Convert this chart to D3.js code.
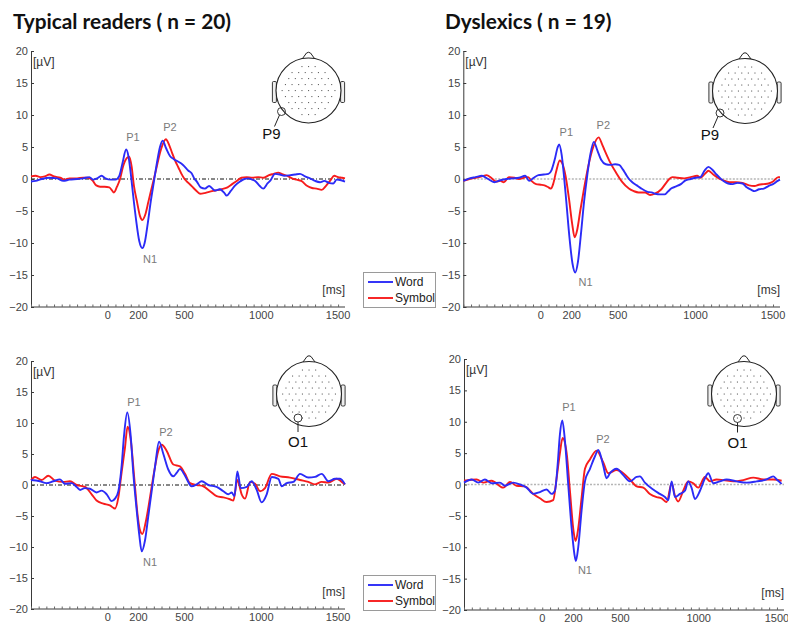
<!DOCTYPE html>
<html>
<head>
<meta charset="utf-8">
<script src="https://cdn.jsdelivr.net/npm/d3@7"></script>
<style>
  html, body { margin: 0; padding: 0; background: #fff; }
  svg { display: block; font-family: Arial, "Liberation Sans", sans-serif; }
</style>
</head>
<body>
<svg id="chart" width="788" height="624"></svg>
<script>
// Grand-average ERPs, each point is [time (ms), amplitude (µV)]
const typicalP9Word = [[-500,-0.4],[-470,-0.3],[-430,0],[-380,0.2],[-330,0.1],[-290,-0.3],[-250,-0.1],[-200,0],[-160,0.1],[-120,0.3],[-95,-0.1],[-70,0.1],[-40,0.5],[-15,0.1],[20,-0.1],[50,-0.1],[75,0.5],[95,2.4],[120,4.6],[135,3.5],[150,0.8],[165,-2.5],[185,-6.5],[205,-9.7],[225,-10.8],[240,-10],[260,-7],[280,-3.5],[300,-0.5],[320,2.5],[340,5],[357,6],[380,4.8],[405,3.6],[430,3.1],[460,2.7],[490,2.2],[525,1.3],[546,0.9],[565,0],[580,-0.4],[605,-1.3],[633,-1.5],[660,-1.1],[700,-1.8],[730,-1.6],[760,-2.2],[774,-2.6],[800,-1.9],[830,-1],[861,-0.4],[890,0],[916,0.1],[940,-0.1],[960,-0.3],[990,-1.1],[1013,-1.5],[1040,-0.7],[1060,-0.2],[1089,0.8],[1120,0.7],[1150,0.5],[1190,0.6],[1220,0.7],[1252,0.8],[1285,0.4],[1317,0.1],[1350,-0.3],[1382,-0.5],[1410,-0.3],[1440,-0.6],[1469,-0.7],[1491,-0.1],[1520,-0.2],[1545,-0.4]];
const typicalP9Symbol = [[-500,0.4],[-470,0.5],[-440,0.3],[-410,0.4],[-380,0.7],[-350,0.4],[-310,0.2],[-280,-0.1],[-250,0.1],[-200,0.1],[-160,0.2],[-130,0.2],[-100,-0.2],[-75,-1],[-50,-1.2],[-20,-1.2],[10,-1.3],[40,-2.1],[60,-1.2],[80,0],[100,2],[125,3.3],[140,3.5],[155,2],[170,-1],[190,-3.5],[210,-5.8],[225,-6.4],[245,-5.5],[265,-3.5],[290,-1],[315,1.5],[345,4.5],[378,6.2],[400,5.3],[420,4],[440,2.8],[460,1.8],[480,0.8],[500,0],[525,-0.6],[550,-1.2],[575,-1.8],[601,-2.3],[630,-2.2],[660,-2.0],[700,-1.8],[740,-1.6],[780,-1.3],[810,-0.8],[840,-0.3],[870,0.2],[905,0.3],[940,0.2],[980,0.3],[1013,0.2],[1050,0.6],[1080,0.8],[1110,1.0],[1140,0.7],[1170,0.5],[1200,0.1],[1230,-0.1],[1260,-0.3],[1300,-1.1],[1330,-1.4],[1360,-1.5],[1393,-1.7],[1420,-1.1],[1450,-0.2],[1475,0.5],[1500,0.3],[1525,0.2],[1545,0.1]];

const dyslexicP9Word = [[-500,-0.3],[-460,0.1],[-420,0.3],[-380,0.5],[-340,0],[-300,-0.5],[-260,-0.2],[-220,0],[-180,0.1],[-140,0.2],[-100,0.5],[-75,-0.3],[-45,0.2],[-15,0.6],[20,0.7],[50,0.8],[70,1.4],[90,3],[110,5],[119,5.4],[135,3.8],[150,0.5],[165,-3.5],[185,-9],[205,-13.2],[223,-14.6],[240,-13],[260,-8.5],[280,-3.5],[300,0.5],[320,3.8],[343,5.8],[365,4.5],[390,3],[420,2.3],[450,2.2],[480,2.3],[506,2.2],[530,1.5],[548,0.8],[570,0],[591,-0.5],[620,-1],[650,-1.5],[690,-2],[716,-2.1],[740,-2.3],[770,-2.4],[800,-2.4],[820,-2],[842,-1.5],[870,-1.2],[905,-0.8],[935,-0.2],[968,0],[1000,0.2],[1031,0.3],[1060,1.4],[1083,1.9],[1110,1.4],[1135,0.7],[1160,0.1],[1180,-0.3],[1210,-0.7],[1240,-0.8],[1270,-0.6],[1303,-0.7],[1330,-1.3],[1360,-1.7],[1380,-1.9],[1410,-1.6],[1440,-1.5],[1470,-1.1],[1500,-0.8],[1530,-0.3],[1545,-0.1]];
const dyslexicP9Symbol = [[-500,-0.3],[-460,0],[-420,0.2],[-380,0.4],[-350,0.6],[-320,0.2],[-290,-0.4],[-260,-0.3],[-238,-0.5],[-206,0.3],[-170,0.2],[-140,0],[-122,0.1],[-95,0.3],[-81,0.3],[-60,-0.3],[-30,-0.8],[0,-0.9],[24,-1],[50,-1.3],[66,-1.5],[80,-0.8],[98,1],[123,2.9],[140,2.4],[160,0.5],[182,-3],[203,-7],[219,-9.1],[235,-8],[255,-5],[276,-2],[307,2],[339,5],[374,6.5],[395,5.5],[412,4.5],[444,2.8],[486,1],[527,-0.5],[569,-1.5],[601,-1.9],[632,-2.1],[674,-2.1],[706,-2.5],[737,-2.3],[779,-1.6],[810,-0.6],[830,0],[850,0.3],[884,0.2],[926,0.1],[968,0.3],[1010,0.5],[1031,0.2],[1060,0.8],[1083,1.3],[1114,0.7],[1156,0],[1190,-0.3],[1219,-0.5],[1260,-0.5],[1303,-0.6],[1345,-1.0],[1380,-1.1],[1408,-0.9],[1440,-0.8],[1471,-0.7],[1500,-0.4],[1534,0.3],[1545,0.3]];

const typicalO1Word = [[-500,0.8],[-442,0.6],[-400,0.3],[-355,0.6],[-311,0.9],[-279,0.2],[-235,0.3],[-203,-0.3],[-180,-0.8],[-150,-0.5],[-116,-0.6],[-73,-1.2],[-40,-0.9],[-7,-1.5],[25,-2.6],[47,-2.2],[69,-1],[90,3],[106,8],[127,11.7],[149,8],[166,2],[188,-4],[205,-8],[221,-10.7],[242,-9],[264,-5],[286,-1],[308,3],[334,7],[362,5],[394,2.5],[427,1.4],[450,2],[470,2.6],[503,1.5],[546,-0.2],[579,0.1],[612,0.6],[655,0],[709,-0.3],[753,-1],[785,-1.5],[807,-1.2],[825,-1.8],[844,2.2],[866,-0.5],[905,-0.3],[937,0.6],[970,-0.8],[1002,-2.8],[1035,-1.5],[1068,1.3],[1111,1],[1133,-0.2],[1165,0.3],[1209,0.5],[1252,1.8],[1306,1.2],[1350,1.3],[1393,1.8],[1437,0.6],[1480,1],[1513,1],[1545,0.1]];
const typicalO1Symbol = [[-500,0.8],[-474,1.3],[-431,0.8],[-387,1.5],[-344,0.7],[-290,0.5],[-246,0.6],[-203,0],[-148,-0.3],[-105,-1.5],[-73,-2.5],[-29,-3],[14,-3.3],[47,-3.8],[69,-2],[90,2],[112,6],[129,9.4],[151,7],[173,1],[195,-5],[210,-7.3],[225,-7.9],[247,-6],[275,-2],[301,2],[329,5.5],[351,6.5],[384,5.5],[427,3.3],[470,3.0],[503,1.8],[536,0.3],[579,0],[622,-0.2],[666,-1],[709,-1.8],[753,-2.0],[796,-2.3],[818,-2.5],[844,0.8],[872,-1.5],[894,-2.2],[927,0.5],[959,0.2],[992,-1.0],[1024,-0.5],[1068,1.8],[1122,1.4],[1187,1.2],[1252,0.8],[1306,0.5],[1350,0.1],[1393,0.5],[1437,0.4],[1491,1],[1524,0.5],[1545,0.1]];

const dyslexicO1Word = [[-500,0.3],[-451,0.8],[-409,0.3],[-366,0.8],[-324,0.2],[-270,0.3],[-238,-0.2],[-185,0.3],[-142,0],[-100,-0.5],[-57,-1.5],[-15,-1.2],[28,-0.8],[60,-1.5],[81,-1.0],[98,3],[113,8],[128,10.2],[145,7],[166,0],[188,-7],[205,-11],[215,-12.2],[230,-10],[252,-4],[273,0.5],[305,2.5],[337,4.5],[358,5.5],[390,3],[411,1],[433,1.8],[475,2.5],[518,1.5],[560,0.5],[603,1.2],[624,1.3],[656,0.3],[709,-0.8],[752,-1.5],[784,-2.0],[805,-2.5],[827,0.5],[848,-2],[880,-1.5],[912,-1],[933,0.5],[954,-0.5],[976,-2.3],[1008,-1],[1040,1],[1061,1.8],[1093,0.2],[1135,0.5],[1178,0.8],[1242,0.5],[1306,0.3],[1370,0.5],[1434,0.8],[1476,1.3],[1498,0.8],[1530,0.1]];
const dyslexicO1Symbol = [[-500,0.6],[-419,0.8],[-377,0.3],[-324,0.6],[-249,-0.5],[-206,0.4],[-164,-0.2],[-111,-0.3],[-57,-1.5],[-15,-2.2],[28,-2.8],[70,-2.5],[92,1],[113,5],[130,7.4],[156,5],[177,-1],[198,-7],[213,-9],[230,-7],[252,-2],[273,2.5],[305,4],[347,5.4],[390,3.5],[422,1.8],[475,2.3],[518,1.8],[560,0.8],[603,-0.3],[646,-0.5],[688,-1.5],[731,-2.0],[763,-2.2],[795,-2.8],[827,0.2],[848,-1.8],[869,-2.7],[901,-1],[933,0.5],[965,0.2],[997,-0.5],[1040,1.2],[1072,0.5],[1114,0.8],[1157,0.7],[1221,0.5],[1285,0.7],[1349,1.1],[1413,0.8],[1476,0.8],[1530,0.6]];

// Component annotations: [label, time (ms), amplitude (µV)]
const typicalP9Peaks   = [["P1",164,6.4],["P2",405,8.0],["N1",275,-12.7]];
const dyslexicP9Peaks  = [["P1",165,7.2],["P2",404,8.3],["N1",290,-16.2]];
const typicalO1Peaks   = [["P1",171,13.2],["P2",379,8.4],["N1",275,-12.6]];
const dyslexicO1Peaks  = [["P1",171,12.1],["P2",388,7.1],["N1",273,-13.8]];

const conditions = ["Word", "Symbol"];
const groupTitles = ["Typical readers ( n = 20)", "Dyslexics ( n = 19)"];
const yTickValues = [-20, -15, -10, -5, 0, 5, 10, 15, 20];
const xTickLabels = [0, 200, 500, 1000, 1500];
const xMinorTicks = d3.range(-500, 1501, 50);
const timeDomain = [-500, 1545];
const ampDomain = [-20, 20];

const colors = { Word: "#2b2bf7", Symbol: "#f71c1c" };

const svg = d3.select("#chart");

// Panel frames (pixel layout) and their content
const panels = [
  { x: [31, 345],     y: [307, 51],  word: typicalP9Word,   symbol: typicalP9Symbol,   peaks: typicalP9Peaks,
    site: "P9", head: [308.5, 90.5], mark: [-27, 21], zero: "dashdot", legend: [363, 272] },
  { x: [463.3, 780],  y: [307, 51],  word: dyslexicP9Word,  symbol: dyslexicP9Symbol,  peaks: dyslexicP9Peaks,
    site: "P9", head: [745, 91],     mark: [-25, 22], zero: "dotted" },
  { x: [31, 345],     y: [609, 361], word: typicalO1Word,   symbol: typicalO1Symbol,   peaks: typicalO1Peaks,
    site: "O1", head: [309, 394],    mark: [-11, 24], zero: "dashdot", legend: [363, 575] },
  { x: [464, 784],    y: [610, 359], word: dyslexicO1Word,  symbol: dyslexicO1Symbol,  peaks: dyslexicO1Peaks,
    site: "O1", head: [744, 394],    mark: [-6.5, 24.5], zero: "dotted" }
];

// Group titles
svg.append("text").attr("x", 13).attr("y", 29).text(groupTitles[0])
  .attr("font-family", "Lato, 'Open Sans', sans-serif").attr("font-weight", 700)
  .attr("font-size", 20.8).attr("fill", "#111");
svg.append("text").attr("x", 445).attr("y", 29).text(groupTitles[1])
  .attr("font-family", "Lato, 'Open Sans', sans-serif").attr("font-weight", 700)
  .attr("font-size", 20.8).attr("fill", "#111");

const axisColor = "#3a3a3a";
const tickText = "#444";

panels.forEach(p => {
  const x = d3.scaleLinear().domain(timeDomain).range(p.x);
  const y = d3.scaleLinear().domain(ampDomain).range(p.y);
  const g = svg.append("g");

  // zero reference line
  const zero = g.append("line")
    .attr("x1", x(timeDomain[0])).attr("x2", x(timeDomain[1]))
    .attr("y1", y(0)).attr("y2", y(0));
  if (p.zero === "dashdot") {
    zero.attr("stroke", "#111").attr("stroke-width", 1).attr("stroke-dasharray", "4,2,1,2");
  } else {
    zero.attr("stroke", "#b5b5b5").attr("stroke-width", 1.6).attr("stroke-dasharray", "2,1.5");
  }

  // y axis: inward ticks with labels on the left
  const yAxis = d3.axisLeft(y).tickValues(yTickValues).tickSize(-3).tickPadding(5)
    .tickFormat(d3.format("d"));
  const ya = g.append("g").attr("transform", `translate(${p.x[0]},0)`).call(yAxis);
  ya.select(".domain").attr("stroke", axisColor).attr("stroke-width", 1);
  ya.selectAll(".tick line").attr("stroke", axisColor);
  ya.selectAll(".tick text").attr("font-size", 11).attr("fill", tickText)
    .attr("font-family", "Arial, 'Liberation Sans', sans-serif").attr("x", -3);

  // x axis: small inward ticks every 50 ms, labelled at selected times
  const xAxis = d3.axisBottom(x).tickValues(xMinorTicks).tickSize(-2.5).tickFormat("");
  const xa = g.append("g").attr("transform", `translate(0,${p.y[0]})`).call(xAxis);
  xa.select(".domain").attr("stroke", axisColor).attr("stroke-width", 1)
    .attr("d", `M${x(timeDomain[0])},0H${x(timeDomain[1])}`);
  xa.selectAll(".tick line").attr("stroke", "#666");
  g.selectAll(".xlab").data(xTickLabels).join("text")
    .attr("x", d => x(d)).attr("y", p.y[0] + 12)
    .attr("text-anchor", "middle").attr("font-size", 11).attr("fill", tickText)
    .text(d => d);

  // unit labels
  g.append("text").attr("x", p.x[0] + 2).attr("y", p.y[1] + 15)
    .attr("font-size", 12).attr("fill", "#333").text("[µV]");
  g.append("text").attr("x", x(1545)).attr("y", y(-17.9))
    .attr("text-anchor", "end").attr("font-size", 12).attr("fill", "#333").text("[ms]");

  // waveforms
  const line = d3.line().x(d => x(d[0])).y(d => y(d[1])).curve(d3.curveMonotoneX);
  g.append("path").datum(p.symbol).attr("d", line).attr("fill", "none")
    .attr("stroke", colors.Symbol).attr("stroke-width", 1.9).attr("stroke-linejoin", "round");
  g.append("path").datum(p.word).attr("d", line).attr("fill", "none")
    .attr("stroke", colors.Word).attr("stroke-width", 1.9).attr("stroke-linejoin", "round");

  // component labels
  g.selectAll(".peak").data(p.peaks).join("text")
    .attr("x", d => x(d[1])).attr("y", d => y(d[2]))
    .attr("text-anchor", "middle").attr("dominant-baseline", "middle")
    .attr("font-size", 11).attr("fill", "#7a7a7a").text(d => d[0]);

  // scalp map with the recording site
  const [cx, cy] = p.head;
  const r = 32.5;
  const h = g.append("g");
  h.append("path")
    .attr("d", `M${cx - 6},${cy - r + 0.5}L${cx - 2},${cy - r - 5}Q${cx},${cy - r - 6.5} ${cx + 2},${cy - r - 5}L${cx + 6},${cy - r + 0.5}`)
    .attr("fill", "#fff").attr("stroke", "#222").attr("stroke-width", 1);
  [-1, 1].forEach(s => {
    h.append("rect").attr("x", s < 0 ? cx - r - 3.6 : cx + r - 0.4).attr("y", cy - 9)
      .attr("width", 4).attr("height", 21).attr("rx", 1.2)
      .attr("fill", "#eee").attr("stroke", "#222").attr("stroke-width", 0.9);
  });
  h.append("circle").attr("cx", cx).attr("cy", cy).attr("r", r)
    .attr("fill", "#fff").attr("stroke", "#222").attr("stroke-width", 1.1);
  // electrode grid
  const dots = [];
  for (let row = -4; row <= 4; row++) {
    const dy = row * 6;
    const off = (row % 2 === 0) ? 0 : 3.3;
    for (let col = -4; col <= 4; col++) {
      const dx = col * 6.6 + off;
      if (Math.hypot(dx, dy * 1.05) < r - 6) dots.push([cx + dx, cy + dy]);
    }
  }
  h.selectAll(".dot").data(dots).join("rect")
    .attr("x", d => d[0] - 0.5).attr("y", d => d[1] - 0.5)
    .attr("width", 1.1).attr("height", 1.1).attr("fill", "#666");
  const mx = cx + p.mark[0], my = cy + p.mark[1];
  h.append("circle").attr("cx", mx).attr("cy", my).attr("r", 4)
    .attr("fill", "none").attr("stroke", "#222").attr("stroke-width", 0.9);
  if (p.site === "P9") {
    h.append("line").attr("x1", mx - 2).attr("y1", my + 3.5).attr("x2", mx - 7).attr("y2", my + 15)
      .attr("stroke", "#222").attr("stroke-width", 1);
    h.append("text").attr("x", mx - 10).attr("y", my + 27).attr("text-anchor", "middle")
      .attr("font-size", 15).attr("fill", "#111").text(p.site);
  } else {
    h.append("line").attr("x1", mx).attr("y1", my + 4).attr("x2", mx).attr("y2", my + 14)
      .attr("stroke", "#222").attr("stroke-width", 1);
    h.append("text").attr("x", mx).attr("y", my + 29).attr("text-anchor", "middle")
      .attr("font-size", 15).attr("fill", "#111").text(p.site);
  }

  // legend
  if (p.legend) {
    const [lx, ly] = p.legend;
    const lg = g.append("g");
    lg.append("rect").attr("x", lx + 0.5).attr("y", ly + 0.5).attr("width", 72).attr("height", 35)
      .attr("fill", "#fff").attr("stroke", "#9a9a9a").attr("stroke-width", 1);
    conditions.forEach((c, i) => {
      const yy = ly + 10 + i * 16;
      lg.append("line").attr("x1", lx + 5).attr("x2", lx + 30).attr("y1", yy).attr("y2", yy)
        .attr("stroke", colors[c]).attr("stroke-width", 1.9);
      lg.append("text").attr("x", lx + 32).attr("y", yy + 4.3).attr("font-size", 12)
        .attr("fill", "#222").text(c);
    });
  }
});
</script>
</body>
</html>
